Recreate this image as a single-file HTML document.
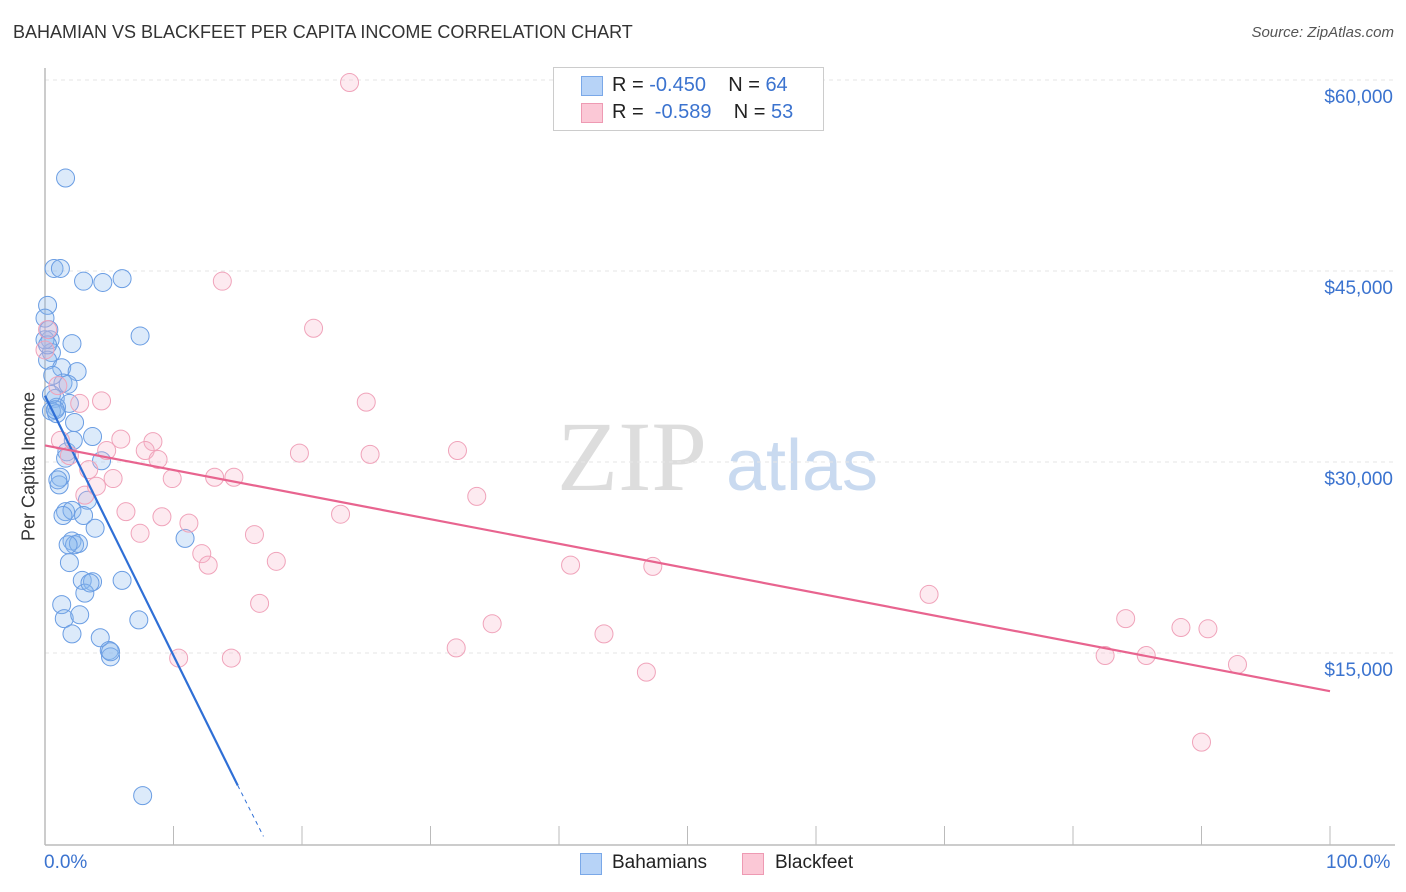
<!DOCTYPE html>
<html><head><meta charset="utf-8"><style>
body{margin:0;background:#fff;font-family:"Liberation Sans",sans-serif}
#w{position:relative;width:1406px;height:892px;overflow:hidden}
.t{position:absolute;white-space:nowrap}
</style></head><body><div id="w">
<div class="t" style="left:13px;top:22px;font-size:18px;color:#333">BAHAMIAN VS BLACKFEET PER CAPITA INCOME CORRELATION CHART</div>
<div class="t" style="right:12px;top:24px;font-size:15px;color:#555;font-style:italic">Source: ZipAtlas.com</div>
<svg id="s" width="1406" height="892" style="position:absolute;left:0;top:0">
<text x="632" y="490" font-family="Liberation Serif,serif" font-size="100" fill="#ddd" text-anchor="middle">ZIP</text>
<text x="802" y="490" font-family="Liberation Sans,sans-serif" font-size="72" fill="#c9daf0" text-anchor="middle">atlas</text>
</svg>
<div class="t" style="left:553px;top:67px;width:269px;height:62px;border:1px solid #ccc;background:#fff">
<div style="position:absolute;left:27px;top:8px;width:20px;height:18px;background:#b7d3f7;border:1px solid #7aa8e8"></div>
<div style="position:absolute;left:27px;top:35px;width:20px;height:18px;background:#fbc8d6;border:1px solid #ee9ab3"></div>
<div class="t" style="left:58px;top:6px;font-size:20px;color:#222">R = <span style="color:#3b73cf">-0.450</span>&nbsp;&nbsp;&nbsp; N = <span style="color:#3b73cf">64</span></div>
<div class="t" style="left:58px;top:33px;font-size:20px;color:#222">R = &nbsp;<span style="color:#3b73cf">-0.589</span>&nbsp;&nbsp;&nbsp; N = <span style="color:#3b73cf">53</span></div>
</div>
<div class="t" style="left:17px;top:456px;transform:translate(-50%,0) rotate(-90deg);transform-origin:50% 50%;margin-left:12px;font-size:18px;color:#333">Per Capita Income</div>
<div class="t" style="left:44px;top:852px;font-size:19px;color:#3b73cf">0.0%</div>
<div class="t" style="left:1326px;top:852px;font-size:19px;color:#3b73cf">100.0%</div>
<div class="t" style="left:580px;top:853px;width:20px;height:20px;background:#b7d3f7;border:1px solid #7aa8e8"></div>
<div class="t" style="left:612px;top:852px;font-size:19px;color:#222">Bahamians</div>
<div class="t" style="left:742px;top:853px;width:20px;height:20px;background:#fbc8d6;border:1px solid #ee9ab3"></div>
<div class="t" style="left:775px;top:852px;font-size:19px;color:#222">Blackfeet</div>
</div>
<script>
const yTicks=[15,30,45,60];
const yTickLabels=["$15,000","$30,000","$45,000","$60,000"];
const blueX=[1.6,0.7,1.2,3.0,4.5,6.0,0.2,0.0,7.4,0.4,2.1,0.5,0.2,1.3,2.5,1.4,1.8,0.8,0.9,1.9,0.5,0.9,2.3,3.7,1.7,4.4,1.2,1.1,3.3,1.6,2.1,3.0,1.4,3.9,10.9,2.1,2.3,2.6,1.9,2.9,3.7,6.0,3.1,1.3,1.5,2.7,7.3,2.1,4.3,5.0,5.1,7.6,0.0,0.2,0.5,0.8,1.0,2.2,1.8,3.5,5.1,1.6,0.3,0.6];
const blueY=[52.3,45.2,45.2,44.2,44.1,44.4,42.3,41.3,39.9,39.6,39.3,38.6,38.0,37.4,37.1,36.2,36.1,35.0,34.3,34.6,34.0,33.8,33.1,32.0,30.8,30.1,28.8,28.2,27.0,26.1,26.2,25.8,25.8,24.8,24.0,23.8,23.5,23.6,22.1,20.7,20.6,20.7,19.7,18.8,17.7,18.0,17.6,16.5,16.2,15.2,14.7,3.8,39.6,39.2,35.3,34.1,28.6,31.7,23.5,20.5,15.1,30.3,40.4,36.8];
const pinkX=[23.7,13.8,20.9,0.2,1.0,4.4,2.7,25.0,5.9,8.4,1.2,4.8,1.9,7.8,32.1,19.8,25.3,8.8,3.4,5.3,9.9,13.2,14.7,4.0,33.6,6.3,9.1,23.0,11.2,7.4,16.3,12.2,12.7,18.0,40.9,47.3,16.7,68.8,84.1,34.8,88.4,90.5,43.5,32.0,10.4,14.5,82.5,85.7,92.8,46.8,90.0,0.0,3.1];
const pinkY=[59.8,44.2,40.5,40.4,36.0,34.8,34.6,34.7,31.8,31.6,31.7,30.9,30.5,30.9,30.9,30.7,30.6,30.2,29.4,28.7,28.7,28.8,28.8,28.1,27.3,26.1,25.7,25.9,25.2,24.4,24.3,22.8,21.9,22.2,21.9,21.8,18.9,19.6,17.7,17.3,17.0,16.9,16.5,15.4,14.6,14.6,14.8,14.8,14.1,13.5,8.0,38.8,27.4];
const blueTrend=[0,35.2,15.0,4.6,17.0,0.6];
const pinkTrend=[0,31.3,100,12.0];
const X=p=>45+p*12.85, Y=v=>844-v*191/15;
const s=document.getElementById('s'),NS='http://www.w3.org/2000/svg';
function mk(t,a){const e=document.createElementNS(NS,t);for(const k in a)e.setAttribute(k,a[k]);s.appendChild(e);return e;}
yTicks.forEach((v,i)=>{
 const g=mk('line',{x1:45,x2:1395,y1:Y(v),y2:Y(v),stroke:'#e6e6e6','stroke-dasharray':'4,4'});
 
 
 const t=mk('text',{x:1393,y:Y(v)+23,'text-anchor':'end','font-size':19,fill:'#3b73cf','font-family':'Liberation Sans,sans-serif'});
 t.textContent=yTickLabels[i];
 
 
});
const ax=mk('line',{x1:45,x2:1395,y1:845,y2:845,stroke:'#bbb','stroke-width':1.5});


const ay=mk('line',{x1:45,x2:45,y1:68,y2:845,stroke:'#bbb','stroke-width':1.5});


for(let i=1;i<=10;i++){const t=mk('line',{x1:X(i*10),x2:X(i*10),y1:826,y2:845,stroke:'#bbb'});
 
 }
blueX.forEach((x,i)=>{const c=mk('circle',{cx:X(x),cy:Y(blueY[i]),r:9,fill:'rgba(140,185,240,0.3)',stroke:'#6a9de3','stroke-width':1});
 
 });
pinkX.forEach((x,i)=>{const c=mk('circle',{cx:X(x),cy:Y(pinkY[i]),r:9,fill:'rgba(248,180,200,0.28)',stroke:'#f0a3ba','stroke-width':1});
 
 });
const b1=mk('line',{x1:X(blueTrend[0]),y1:Y(blueTrend[1]),x2:X(blueTrend[2]),y2:Y(blueTrend[3]),stroke:'#2f6fd6','stroke-width':2.2});


const b2=mk('line',{x1:X(blueTrend[2]),y1:Y(blueTrend[3]),x2:X(blueTrend[4]),y2:Y(blueTrend[5]),stroke:'#2f6fd6','stroke-width':1,'stroke-dasharray':'4,4'});


const p1=mk('line',{x1:X(pinkTrend[0]),y1:Y(pinkTrend[1]),x2:X(pinkTrend[2]),y2:Y(pinkTrend[3]),stroke:'#e8648f','stroke-width':2.2});


</script>
</body></html>
